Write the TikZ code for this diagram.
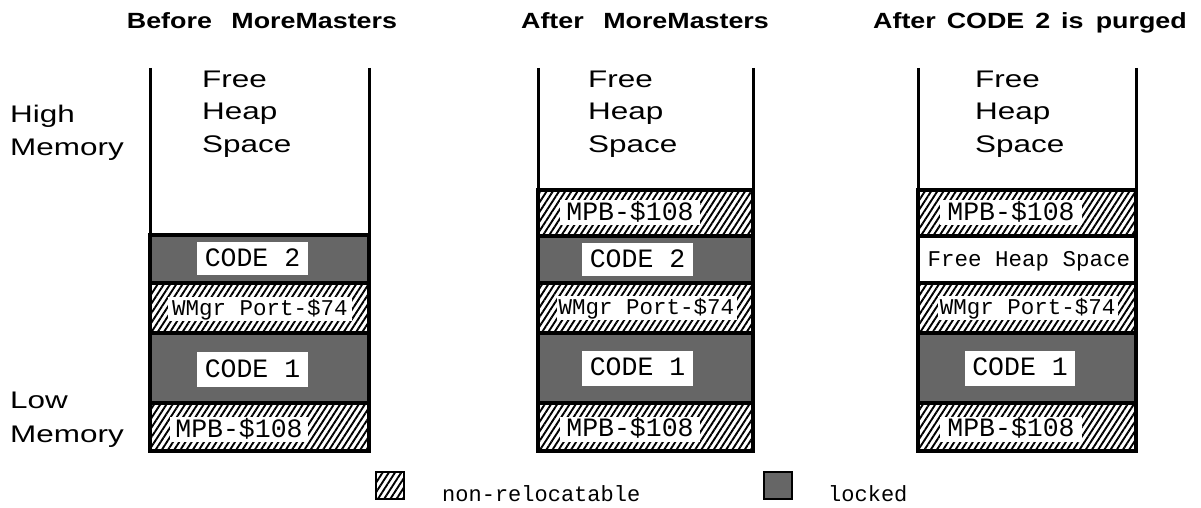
\documentclass[tikz,border=0pt]{standalone}
\usepackage{fontspec}
\usepackage{graphicx}
\setmainfont{Liberation Sans}
\newfontfamily\monofnt{Liberation Mono}
\usetikzlibrary{patterns.meta}
\newcommand{\xwide}[1]{\scalebox{1.31}[1]{#1}}
\newcommand{\xwideb}[1]{\scalebox{1.22}[1]{#1}}
\begin{document}
\begin{tikzpicture}[x=1pt,y=-1pt,
  hatch/.style={pattern={Lines[angle=57,distance=5.2pt,line width=1.9pt]}},
  locked/.style={fill=black!60},
  blk/.style={draw, line width=3.8pt},
  wall/.style={line width=3pt},
  lbl/.style={fill=white, inner sep=0pt, text height=15pt, text depth=0pt, font=\monofnt\fontsize{26.5}{26.5}\selectfont},
  lbls/.style={fill=white, inner sep=0pt, text height=13pt, text depth=0pt, font=\monofnt\fontsize{22.5}{22.5}\selectfont},
  sans/.style={inner sep=0pt, anchor=base west, font=\fontsize{24}{24}\selectfont},
  ttl/.style={inner sep=0pt, anchor=base, font=\bfseries\fontsize{22}{22}\selectfont},
  leg/.style={inner sep=0pt, anchor=base west, font=\monofnt\fontsize{22}{22}\selectfont}
]
\useasboundingbox (0,0) rectangle (1201,508);

% titles
\node[ttl] (t1) at (262,29) {\xwideb{Before\hspace{16pt}MoreMasters}};
\node[ttl] (t2) at (645,29) {\xwideb{After\hspace{16pt}MoreMasters}};
\node[ttl] (t3) at (1030,29) {\xwideb{After\hspace{9pt}CODE\hspace{9pt}2\hspace{9pt}is\hspace{10pt}purged}};

% side labels
\node[sans] (hm1) at (10,123) {\xwide{High}};
\node[sans] (hm2) at (10,155) {\xwide{Memory}};
\node[sans] (lm1) at (10,408) {\xwide{Low}};
\node[sans] (lm2) at (10,442) {\xwide{Memory}};

% ---------- column 1 ----------
\draw[wall] (150,68) -- (150,451);
\draw[wall] (369,68) -- (369,451);
\node[sans] (f1a) at (202,88) {\xwide{Free}};
\node[sans] (f1b) at (202,120) {\xwide{Heap}};
\node[sans] (f1c) at (202,152) {\xwide{Space}};
\path[blk, locked] (150,235) rectangle (369,283);
\path[blk, hatch] (150,283) rectangle (369,333);
\path[blk, locked] (150,333) rectangle (369,403);
\path[blk, hatch] (150,403) rectangle (369,451);
\node[lbl, minimum width=111pt, minimum height=33pt] (c1code2) at (252.5,258.5) {CODE 2};
\node[lbls, minimum width=184pt, minimum height=24pt] (c1wm) at (260,309) {WMgr Port-\$74};
\node[lbl, minimum width=111pt, minimum height=35pt] (c1code1) at (252.5,369.5) {CODE 1};
\node[lbl, minimum width=138pt, minimum height=25pt] (c1mpb) at (239,429.5) {MPB-\$108};

% ---------- column 2 ----------
\draw[wall] (538,68) -- (538,451);
\draw[wall] (753,68) -- (753,451);
\node[sans] (f2a) at (588,88) {\xwide{Free}};
\node[sans] (f2b) at (588,120) {\xwide{Heap}};
\node[sans] (f2c) at (588,152) {\xwide{Space}};
\path[blk, hatch] (538,190) rectangle (753,236);
\path[blk, locked] (538,236) rectangle (753,283);
\path[blk, hatch] (538,283) rectangle (753,333);
\path[blk, locked] (538,333) rectangle (753,403);
\path[blk, hatch] (538,403) rectangle (753,451);
\node[lbl, minimum width=140pt, minimum height=25pt] (c2mpbt) at (630,212.5) {MPB-\$108};
\node[lbl, minimum width=111pt, minimum height=33pt] (c2code2) at (637.5,259.5) {CODE 2};
\node[lbls, minimum width=180pt, minimum height=24pt] (c2wm) at (646.5,308) {WMgr Port-\$74};
\node[lbl, minimum width=111pt, minimum height=35pt] (c2code1) at (637.5,368) {CODE 1};
\node[lbl, minimum width=140pt, minimum height=25pt] (c2mpb) at (630,429) {MPB-\$108};

% ---------- column 3 ----------
\draw[wall] (918,68) -- (918,451);
\draw[wall] (1136,68) -- (1136,451);
\node[sans] (f3a) at (975,88) {\xwide{Free}};
\node[sans] (f3b) at (975,120) {\xwide{Heap}};
\node[sans] (f3c) at (975,152) {\xwide{Space}};
\path[blk, hatch] (918,190) rectangle (1136,236);
\path[blk, fill=white] (918,236) rectangle (1136,283);
\path[blk, hatch] (918,283) rectangle (1136,333);
\path[blk, locked] (918,333) rectangle (1136,403);
\path[blk, hatch] (918,403) rectangle (1136,451);
\node[lbl, minimum width=142pt, minimum height=25pt] (c3mpbt) at (1011,212.5) {MPB-\$108};
\node[lbls, minimum width=200pt, minimum height=24pt] (c3free) at (1029,259.5) {Free Heap Space};
\node[lbls, minimum width=180pt, minimum height=24pt] (c3wm) at (1027.5,308) {WMgr Port-\$74};
\node[lbl, minimum width=110pt, minimum height=35pt] (c3code1) at (1020,368) {CODE 1};
\node[lbl, minimum width=142pt, minimum height=25pt] (c3mpb) at (1011,429) {MPB-\$108};

% ---------- legend ----------
\path[draw, line width=2.5pt, hatch] (376,472) rectangle (404,499);
\node[leg] (lg1) at (442,501) {non-relocatable};
\path[draw, line width=2.5pt, locked] (764,472) rectangle (792,499);
\node[leg] (lg2) at (828,501) {locked};
\end{tikzpicture}
\end{document}
